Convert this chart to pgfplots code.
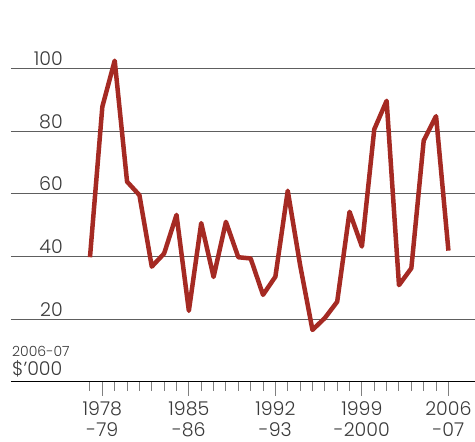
\documentclass[border=0pt]{standalone}
\usepackage{fontspec}
\IfFontExistsTF{Poppins Light}{\setmainfont{Poppins Light}}{\setmainfont{Poppins}}
\usepackage{pgfplots}
\pgfplotsset{compat=1.18}
\definecolor{lineRed}{HTML}{A52A23}
\definecolor{txt}{HTML}{3A3A3A}
\definecolor{gridc}{HTML}{5E5E5E}

\begin{document}
\begin{tikzpicture}
\path[use as bounding box] (0,0) rectangle (475pt,442pt);
\begin{axis}[
  at={(11pt,60pt)}, anchor=south west,
  scale only axis, width=464pt, height=382pt,
  xmin=1970.61, xmax=2008.15, ymin=0, ymax=121.85,
  axis x line*=bottom, axis y line*=left,
  y axis line style={draw=none},
  x axis line style={black, line width=1pt},
  ytick={20,40,60,80,100},
  ytick style={draw=none},
  ymajorgrids, grid style={gridc, line width=1pt},
  xtick={1978,1985,1992,1999,2006},
  xticklabels={{1978\\-79},{1985\\-86},{1992\\-93},{1999\\-2000},{2006\\-07}},
  minor xtick={1977,...,2006},
  tick align=outside,
  major tick length=14pt, minor tick length=9pt,
  xtick style={gray, line width=1pt},
  minor tick style={black!75, line width=1pt},
  tick label style={font=\fontsize{19}{21}\selectfont, text=txt},
  /pgf/number format/assume math mode=true,
  yticklabel style={anchor=base east, inner sep=0pt, xshift=66pt, yshift=3pt},
  xticklabel style={align=center, anchor=north, inner sep=0pt, yshift=-5pt},
  clip=false]
  \addplot[lineRed, line width=4.5pt, line join=round] coordinates {
    (1977,39.8) (1978,87.8) (1979,102.5) (1980,63.9) (1981,59.6)
    (1982,36.8) (1983,41.0) (1984,53.3) (1985,22.7) (1986,50.7)
    (1987,33.5) (1988,51.1) (1989,39.8) (1990,39.4) (1991,27.8)
    (1992,33.6) (1993,61.0) (1994,37.3) (1995,16.6) (1996,20.4)
    (1997,25.6) (1998,54.3) (1999,43.2) (2000,80.6) (2001,89.7)
    (2002,30.9) (2003,36.3) (2004,77.0) (2005,84.8) (2006,41.9)};
\end{axis}
\node[anchor=base west, inner sep=0pt, text=txt, font=\fontsize{14}{16}\selectfont] at (12pt,85pt) {2006-07};
\node[anchor=base west, inner sep=0pt, text=txt, font=\fontsize{19}{21}\selectfont] at (12pt,66pt) {\$’000};
\end{tikzpicture}
\end{document}
